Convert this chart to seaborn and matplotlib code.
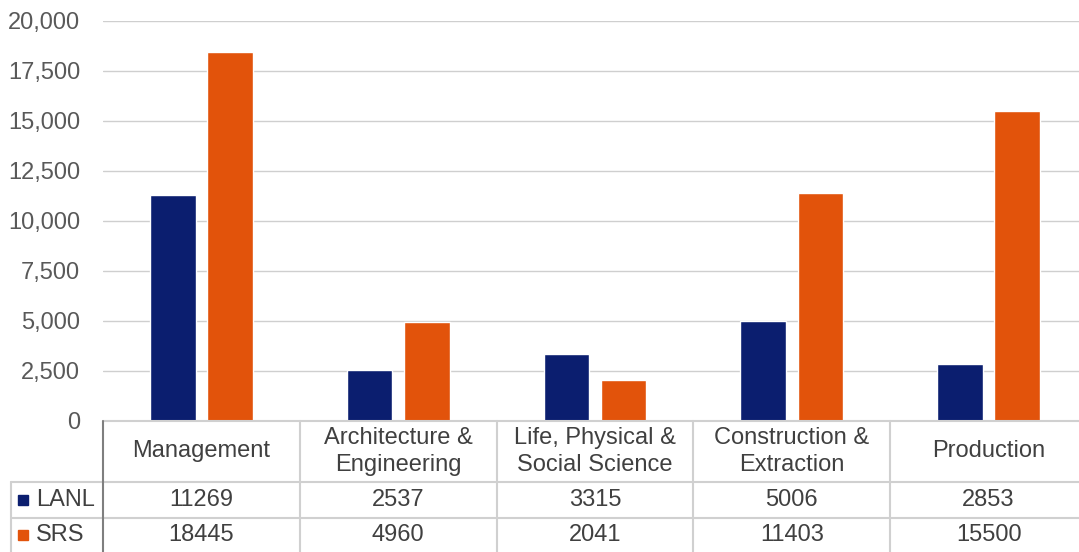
import numpy as np
import pandas as pd
import matplotlib
matplotlib.use("Agg")
import matplotlib.pyplot as plt
import seaborn as sns
from matplotlib.ticker import FuncFormatter

# data
categories = ["Management", "Architecture &\nEngineering", "Life, Physical &\nSocial Science",
              "Construction &\nExtraction", "Production"]
series = ["LANL", "SRS"]
lanl = [11269, 2537, 3315, 5006, 2853]
srs = [18445, 4960, 2041, 11403, 15500]
colors = ["#0b1e6f", "#e2530b"]

df = pd.DataFrame({
    "category": categories * 2,
    "site": ["LANL"] * 5 + ["SRS"] * 5,
    "value": lanl + srs,
})

sns.set_style("white")
plt.rcParams["font.family"] = ["Liberation Sans", "DejaVu Sans"]

fig = plt.figure(figsize=(10.79, 5.52), dpi=100)
ax = fig.add_axes([103 / 1079, 1 - 420.7 / 552, 984 / 1079, 400 / 552])

sns.barplot(data=df, x="category", y="value", hue="site", hue_order=series,
            palette=colors, width=0.58, gap=0.2, saturation=1, legend=False, ax=ax)

ax.set_xlim(-0.5, 4.5)
ax.set_ylim(0, 20000)
ax.set_yticks(np.arange(0, 20001, 2500))
ax.yaxis.set_major_formatter(FuncFormatter(lambda v, p: f"{int(v):,}"))
ax.tick_params(axis="y", length=0, pad=16.5, labelsize=17, labelcolor="#595959")
ax.set_xticks([])
ax.set_xlabel("")
ax.set_ylabel("")
ax.grid(axis="y", color="#cfcfcf", linewidth=1)
ax.set_axisbelow(True)
for s in ax.spines.values():
    s.set_visible(False)

# data table under the bars
tr = ax.get_xaxis_transform()
line_kw = dict(transform=tr, clip_on=False, color="#d0d0d0", linewidth=1.5)
y_head, y_r1, y_r2 = -0.153, -0.243, -0.34
x_left = -0.967

ax.plot([-0.5, 4.5], [0, 0], **line_kw)
ax.plot([x_left, 4.5], [y_head, y_head], **line_kw)
ax.plot([x_left, 4.5], [y_r1, y_r1], **line_kw)
for xb in np.arange(0.5, 4.6, 1):
    ax.plot([xb, xb], [0, y_r2], **line_kw)
ax.plot([x_left, x_left], [y_head, y_r2], **line_kw)
ax.plot([-0.5, -0.5], [0, y_r2], transform=tr, clip_on=False, color="#7f7f7f", linewidth=1.5)

txt_kw = dict(transform=tr, clip_on=False, fontsize=17, color="#404040", ha="center", va="center")
for i, cat in enumerate(categories):
    ax.text(i, -0.076, cat, linespacing=1.3, **txt_kw)
    ax.text(i, -0.198, str(lanl[i]), **txt_kw)
    ax.text(i, -0.286, str(srs[i]), **txt_kw)

for name, c, yy in zip(series, colors, [-0.198, -0.286]):
    ax.plot([-0.909], [yy], marker="s", markersize=6.5, color=c, transform=tr, clip_on=False)
    ax.text(-0.84, yy, name, transform=tr, clip_on=False, fontsize=17, color="#404040",
            ha="left", va="center")

fig.savefig("out.png", dpi=100)
